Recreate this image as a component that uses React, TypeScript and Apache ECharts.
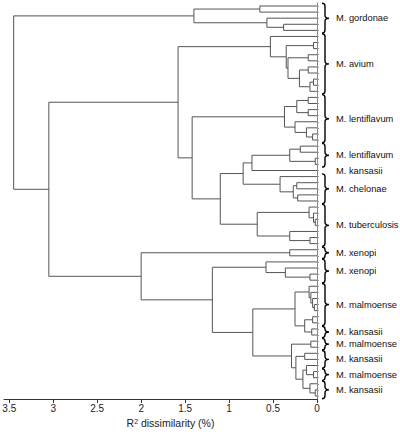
import React, { useEffect, useRef } from 'react';
import * as echarts from 'echarts';

// ---- data ----
const leafCount = 65;

// merges: [node name, left child, right child, dissimilarity height]; numbers are leaf indices (top to bottom)
const merges: [string, number | string, number | string, number][] = [
  ['g1', 0, 1, 0.65],
  ['g2', 3, 4, 0.38],
  ['g3', 2, 'g2', 0.57],
  ['G', 'g1', 'g3', 1.4],
  ['a1', 6, 7, 0.04],
  ['a2', 8, 9, 0.1],
  ['a3', 10, 11, 0.1],
  ['a4', 12, 13, 0.04],
  ['a4b', 'a4', 14, 0.08],
  ['A3', 'a3', 'a4b', 0.2],
  ['A2', 'a2', 'A3', 0.33],
  ['A1', 'a1', 'A2', 0.35],
  ['A0', 5, 'A1', 0.53],
  ['l1', 15, 16, 0.1],
  ['l2', 17, 18, 0.1],
  ['l3', 'l1', 'l2', 0.23],
  ['l4', 21, 22, 0.05],
  ['l5', 20, 'l4', 0.12],
  ['l6', 19, 'l5', 0.25],
  ['L', 'l3', 'l6', 0.37],
  ['f1', 23, 24, 0.19],
  ['f2', 25, 26, 0.02],
  ['F', 'f1', 'f2', 0.31],
  ['K', 'F', 27, 0.74],
  ['c1', 29, 30, 0.23],
  ['c2', 31, 32, 0.22],
  ['c3', 'c1', 'c2', 0.27],
  ['C', 28, 'c3', 0.42],
  ['KC', 'K', 'C', 0.84],
  ['t1', 35, 36, 0.02],
  ['t2', 34, 't1', 0.04],
  ['t3', 33, 't2', 0.09],
  ['t4', 38, 39, 0.08],
  ['t5', 37, 't4', 0.31],
  ['T', 't3', 't5', 0.68],
  ['KCT', 'KC', 'T', 1.1],
  ['LK', 'L', 'KCT', 1.42],
  ['AL', 'A0', 'LK', 1.58],
  ['x1', 40, 41, 0.31],
  ['x2', 44, 45, 0.08],
  ['x3', 43, 'x2', 0.36],
  ['x4', 42, 'x3', 0.58],
  ['m1', 49, 50, 0.03],
  ['m2', 48, 'm1', 0.05],
  ['m3', 47, 'm2', 0.07],
  ['m4', 46, 'm3', 0.09],
  ['m5', 51, 52, 0.05],
  ['k1', 53, 54, 0.06],
  ['k2', 'm5', 'k1', 0.14],
  ['MK1', 'm4', 'k2', 0.25],
  ['p1', 55, 56, 0.07],
  ['q1', 57, 58, 0.14],
  ['r1', 60, 61, 0.04],
  ['q2', 59, 'r1', 0.12],
  ['s1', 63, 64, 0.02],
  ['s2', 62, 's1', 0.08],
  ['q3', 'q2', 's2', 0.16],
  ['q4', 'q1', 'q3', 0.24],
  ['MK2', 'p1', 'q4', 0.29],
  ['MK', 'MK1', 'MK2', 0.73],
  ['XM', 'x4', 'MK', 1.19],
  ['R2', 'x1', 'XM', 2.0],
  ['R', 'AL', 'R2', 3.05],
  ['root', 'G', 'R', 3.45],
];

const groupNames = [
  'M. gordonae', 'M. avium', 'M. lentiflavum', 'M. lentiflavum', 'M. kansasii',
  'M. chelonae', 'M. tuberculosis', 'M. xenopi', 'M. xenopi', 'M. malmoense',
  'M. kansasii', 'M. malmoense', 'M. kansasii', 'M. malmoense', 'M. kansasii',
];
const groupFirstLeaf = [0, 5, 15, 23, 27, 28, 33, 40, 42, 46, 53, 55, 57, 60, 62];
const groupLastLeaf = [4, 14, 22, 26, 27, 32, 39, 41, 45, 52, 54, 56, 59, 61, 64];

const xTicks = [0, 0.5, 1, 1.5, 2, 2.5, 3, 3.5];
const xMax = 3.56;
const axisName = 'R{sup|2} dissimilarity (%)';

const FONT = 'Arial, "Liberation Sans", Helvetica, sans-serif';

export default function App() {
  const ref = useRef<HTMLDivElement>(null);
  useEffect(() => {
    const chart = echarts.init(ref.current!, null, { renderer: 'svg' });

    const pos: Record<string, { h: number; y: number }> = {};
    const get = (k: number | string) => (typeof k === 'number' ? { h: 0, y: k } : pos[k]);
    const linkData = merges.map(([name, a, b, h]) => {
      const A = get(a);
      const B = get(b);
      pos[name] = { h, y: (A.y + B.y) / 2 };
      return [A.h, A.y, h, B.y, B.h];
    });
    const groupData = groupNames.map((n, i) => [groupFirstLeaf[i], groupLastLeaf[i], i]);
    const leafTicks = Array.from({ length: leafCount }, (_, i) => i);

    chart.setOption({
      animation: false,
      textStyle: { fontFamily: FONT },
      grid: { left: 4, right: 83, top: 2.95, bottom: 37, outerBoundsMode: 'none' },
      xAxis: {
        type: 'value',
        inverse: true,
        min: 0,
        max: xMax,
        axisLine: { onZero: false, lineStyle: { color: '#333', width: 1 } },
        axisTick: { customValues: xTicks, length: 4, lineStyle: { color: '#333' } },
        axisLabel: { customValues: xTicks, color: '#222', fontSize: 10, margin: 4, fontFamily: FONT },
        splitLine: { show: false },
        name: axisName,
        nameLocation: 'middle',
        nameGap: 16,
        nameTextStyle: {
          color: '#222',
          fontSize: 10.5,
          fontFamily: FONT,
          padding: [0, 0, 0, 20],
          rich: { sup: { fontSize: 7, verticalAlign: 'top', fontFamily: FONT, color: '#222' } },
        },
      },
      yAxis: {
        type: 'value',
        inverse: true,
        min: -0.5,
        max: leafCount - 0.5,
        position: 'right',
        axisLine: { show: true, onZero: false, lineStyle: { color: '#888', width: 1 } },
        axisTick: { show: true, customValues: leafTicks, length: 2, lineStyle: { color: '#999' } },
        axisLabel: { show: false },
        splitLine: { show: false },
      },
      series: [
        {
          type: 'custom',
          data: linkData,
          encode: { x: [0, 2, 4], y: [1, 3] },
          renderItem: (params: any, api: any) => {
            const hA = api.value(0), yA = api.value(1), h = api.value(2), yB = api.value(3), hB = api.value(4);
            const pts = [api.coord([hA, yA]), api.coord([h, yA]), api.coord([h, yB]), api.coord([hB, yB])];
            return {
              type: 'polyline',
              shape: { points: pts },
              style: { stroke: '#555', fill: 'none', lineWidth: 1 },
            };
          },
        },
        {
          type: 'custom',
          data: groupData,
          encode: { y: [0, 1] },
          clip: false,
          renderItem: (params: any, api: any) => {
            const a = api.value(0), b = api.value(1), idx = api.value(2);
            const top = api.coord([0, a - 0.45]);
            const bot = api.coord([0, b + 0.45]);
            const mid = api.coord([0, (a + b) / 2]);
            const x0 = top[0] + 5;
            const children: any[] = [];
            if (b > a) {
              const y1 = top[1], y2 = bot[1], ym = mid[1];
              const xm = x0 + 3, xt = x0 + 7;
              const r = Math.min(3, (y2 - y1) / 4);
              const d = `M${x0} ${y1} Q${xm} ${y1} ${xm} ${y1 + r} L${xm} ${ym - r} Q${xm} ${ym} ${xt} ${ym} Q${xm} ${ym} ${xm} ${ym + r} L${xm} ${y2 - r} Q${xm} ${y2} ${x0} ${y2}`;
              children.push({
                type: 'path',
                shape: { pathData: d },
                style: { stroke: '#000', fill: 'none', lineWidth: 1.4 },
              });
            }
            children.push({
              type: 'text',
              x: x0 + 14,
              y: mid[1],
              style: {
                text: groupNames[idx],
                fill: '#111',
                fontSize: 9.3,
                fontFamily: FONT,
                verticalAlign: 'middle',
                align: 'left',
              },
            });
            return { type: 'group', children };
          },
        },
      ],
    });
    return () => chart.dispose();
  }, []);
  return <div ref={ref} style={{ position: 'fixed', left: 0, top: 0, width: 400, height: 436, background: '#fff' }} />;
}
